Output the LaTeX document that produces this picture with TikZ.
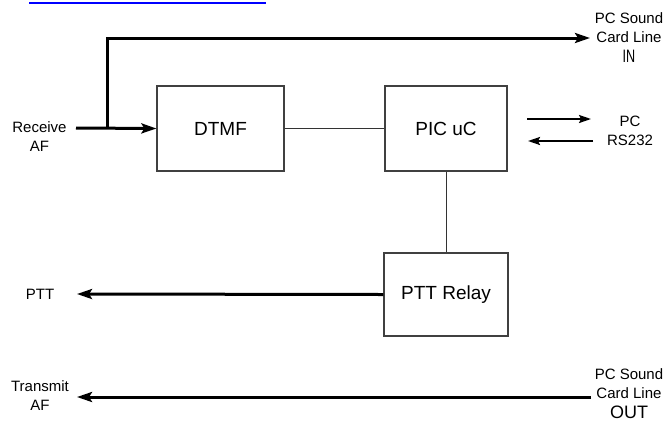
\documentclass[tikz,border=0pt]{standalone}
\usepackage{fontspec}
\setmainfont{Liberation Sans}
\usetikzlibrary{arrows.meta}
\begin{document}
\begin{tikzpicture}[x=1pt,y=-1pt,
  box/.style={draw=black!75,line width=1.2pt,inner sep=0pt,font=\fontsize{19}{22}\selectfont},
  lbl/.style={font=\fontsize{15}{19}\selectfont,align=center,inner sep=0pt},
  big/.style={font=\fontsize{18}{19}\selectfont,inner sep=0pt},
  sig/.style={line width=3pt,-{Stealth[length=15pt,width=10pt,inset=3pt]}},
  ser/.style={line width=2pt,-{Stealth[length=12pt,width=8pt,inset=2pt]}},
  thin/.style={line width=1pt,draw=black!80}]
\useasboundingbox[fill=white] (0,0) rectangle (668,421);
% cut-off link underline at top
\draw[blue,line width=2pt] (29,3) -- (266,3);

% boxes
\node[box,minimum width=127pt,minimum height=85pt] (dtmf) at (220.5,128.5) {DTMF};
\node[box,minimum width=122pt,minimum height=85pt] (pic) at (446,128.5) {PIC uC};
\node[box,minimum width=124pt,minimum height=83pt] (ptt) at (446,294.5) {PTT Relay};

% labels
\node[lbl] (rx) at (39.5,136.5) {Receive\\AF};
\node[lbl] (pcin) at (629,27.5) {PC Sound\\Card Line};
\node[big] (inlbl) at (629,56) {\scalebox{0.7}[1]{IN}};
\node[lbl] (rs) at (630,130.5) {PC\\RS232};
\node[lbl] (pttl) at (40,294) {PTT};
\node[lbl] (tx) at (40,396) {Transmit\\AF};
\node[lbl] (pcout) at (629,383.5) {PC Sound\\Card Line};
\node[big] (outlbl) at (629,412) {OUT};

% connector end points
\coordinate (rxs) at (76,128);
\coordinate (jn) at (107,128);
\coordinate (ine) at (590,38);
\coordinate (rs1a) at (527,119);
\coordinate (rs1b) at (591,119);
\coordinate (rs2a) at (593,141);
\coordinate (rs2b) at (528,141);
\coordinate (ptte) at (77,294);
\coordinate (txs) at (591,397);
\coordinate (txe) at (77,397);

% connectors
\draw[sig] (rxs) -- (dtmf.west);
\draw[sig] (jn) |- (ine);
\draw[thin] (dtmf.east) -- (pic.west);
\draw[thin] (pic.south) -- (ptt.north);
\draw[ser] (rs1a) -- (rs1b);
\draw[ser] (rs2a) -- (rs2b);
\draw[sig] (ptt.west) -- (ptte);
\draw[sig] (txs) -- (txe);
\end{tikzpicture}
\end{document}
